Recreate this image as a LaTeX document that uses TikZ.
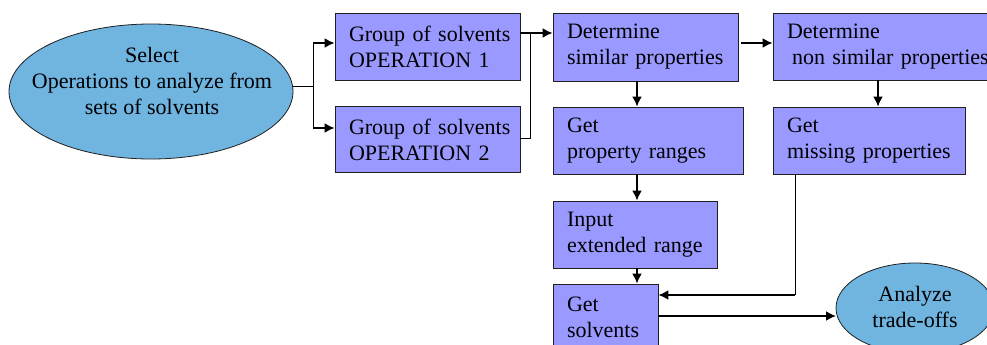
\documentclass[tikz,border=0pt]{standalone}
\usepackage{fontspec}
\setmainfont{Liberation Serif}
\usetikzlibrary{shapes.geometric,arrows.meta}
\definecolor{boxfill}{HTML}{9999FF}
\definecolor{ellfill}{HTML}{70B4E0}
\definecolor{edge}{HTML}{202020}
\begin{document}
\begin{tikzpicture}[x=1pt,y=-1pt,
  txt/.style={font=\fontsize{22}{26}\selectfont},
  pbox/.style={txt,draw=edge,line width=0.8pt,fill=boxfill,rectangle,inner xsep=14pt,inner ysep=0pt,align=left},
  ell/.style={draw=edge,line width=0.8pt,fill=ellfill,ellipse,inner sep=0pt},
  elltxt/.style={txt,align=center,inner sep=0pt},
  thinln/.style={line width=1pt,draw=black},
  arr/.style={line width=1.8pt,draw=black,-{Latex[length=10pt,width=10pt]}}]
\useasboundingbox (0,0) rectangle (987,345);
\clip (0,0) rectangle (987,345);
\fill[white] (0,0) rectangle (987,345);

\node[ell,minimum width=284,minimum height=135] (sel) at (151,91.5) {};
\node[elltxt] (seltxt) at (152,81) {Select\\Operations to analyze from\\sets of solvents};
\node[pbox,text width=157,minimum height=67] (op1) at (427.5,46.5) {\mbox{Group of solvents}\\\mbox{OPERATION 1}};
\node[pbox,text width=157,minimum height=66] (op2) at (427.5,139.5) {\mbox{Group of solvents}\\\mbox{OPERATION 2}};
\node[pbox,text width=157,minimum height=68] (ds) at (645.5,47) {\mbox{Determine}\\\mbox{similar properties}};
\node[pbox,text width=196,minimum height=67] (dns) at (885,46.5) {\mbox{Determine}\\\mbox{\hspace*{5pt}non similar properties}};
\node[pbox,text width=162,minimum height=67] (gpr) at (648,140.5) {\mbox{Get}\\\mbox{property ranges}};
\node[pbox,text width=164,minimum height=67] (gmp) at (869,140.5) {\mbox{Get}\\\mbox{missing properties}};
\node[pbox,text width=136,minimum height=67] (inp) at (635,234.5) {\mbox{Input}\\\mbox{extended range}};
\node[pbox,text width=77,minimum height=67] (gs) at (605.5,317.5) {\mbox{Get}\\\mbox{solvents}};
\node[ell,minimum width=158,minimum height=90] (ana) at (915,308) {};
\node[elltxt] (anatxt) at (915,307) {Analyze\\trade-offs};

% left branch
\coordinate (b0) at (313,86);
\coordinate (b1) at (313,43);
\coordinate (b2) at (313,128);
\draw[thinln] (sel.east |- b0) -- (b0);
\draw[thinln] (b1) -- (b2);
\draw[arr] (b1) -- (op1.west |- b1);
\draw[arr] (b2) -- (op2.west |- b2);

% to determine similar
\coordinate (j1) at (530,33);
\coordinate (j2) at (530,138);
\draw[thinln] (op2.east |- j2) -- (j2) -- (j1);
\draw[arr] (op1.east |- j1) -- (ds.west |- j1);

% determine similar -> non similar
\coordinate (h1) at (741,43);
\draw[arr] (h1) -- (dns.west |- h1);

% vertical arrows
\coordinate (va) at (637,0);
\coordinate (vb) at (878,0);
\draw[arr] (ds.south -| va) -- (gpr.north -| va);
\draw[arr] (dns.south -| vb) -- (gmp.north -| vb);
\draw[arr] (gpr.south -| va) -- (inp.north -| va);
\draw[arr] (inp.south -| va) -- (gs.north -| va);

% missing -> get solvents
\coordinate (m) at (795,295);
\draw[thinln] (gmp.south -| m) -- (m);
\draw[arr] (m) -- (gs.east |- m);

% get solvents -> analyze
\coordinate (g) at (836,316);
\draw[arr] (gs.east |- g) -- (g);
\end{tikzpicture}
\end{document}
